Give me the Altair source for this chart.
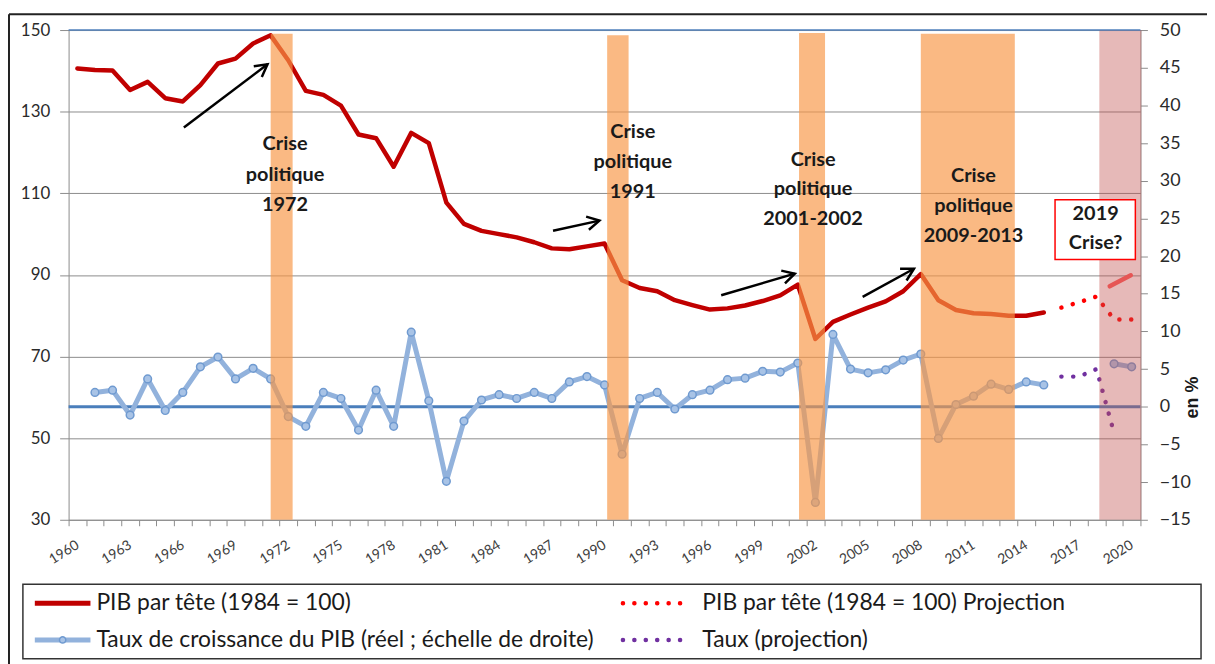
import altair as alt
import pandas as pd

# ---------------- data ----------------
years = list(range(1960, 2016))
pib = [140.6, 140.2, 140.1, 135.3, 137.3, 133.3, 132.5, 136.5, 141.8, 143.0,
       146.7, 148.7, 142.6, 135.1, 134.1, 131.5, 124.4, 123.5, 116.5, 124.8,
       122.3, 107.7, 102.5, 100.8, 100.0, 99.2, 98.0, 96.5, 96.3, 97.0,
       97.7, 88.7, 86.8, 86.0, 83.8, 82.6, 81.5, 81.8, 82.5, 83.6,
       85.0, 87.6, 74.3, 78.5, 80.3, 82.0, 83.5, 86.0, 90.2, 83.8,
       81.4, 80.6, 80.4, 80.0, 80.0, 80.8]

growth_years = list(range(1961, 2016))
growth = [1.9, 2.2, -1.1, 3.7, -0.5, 1.9, 5.3, 6.6, 3.7,
          5.1, 3.7, -1.3, -2.6, 1.9, 1.1, -3.1, 2.2, -2.6, 9.9,
          0.8, -9.9, -1.9, 0.9, 1.6, 1.1, 1.9, 1.1, 3.3, 4.0,
          2.9, -6.3, 1.1, 1.9, -0.3, 1.6, 2.2, 3.6, 3.8, 4.7,
          4.6, 5.8, -12.7, 9.6, 5.0, 4.5, 4.9, 6.2, 7.0, -4.2,
          0.3, 1.4, 3.0, 2.3, 3.3, 2.9]

pib_proj_years = [2016, 2017, 2018, 2019, 2020]
pib_proj = [82.0, 83.3, 84.7, 79.1, 79.1]

rate_proj_years = [2016, 2017, 2018, 2019]
rate_proj = [4.0, 4.0, 5.0, -3.5]

growth_tail_years = [2019, 2020]
growth_tail = [5.7, 5.3]

crisis2019_years = [2018.75, 2019.95]
crisis2019_vals = [87.2, 89.9]

band_start = [1971.0, 1990.15, 2001.07, 2008.0]
band_end = [1972.25, 1991.37, 2002.55, 2013.35]
band_top = [149.1, 148.7, 149.3, 149.1]
pink_start = [2018.16]
pink_end = [2020.55]
pink_top = [150]

arrow_x0 = [1966.06, 1987.07, 1996.64, 2004.69]
arrow_y0 = [126.1, 100.8, 85.0, 84.6]
arrow_x1 = [1970.82, 1989.71, 2000.83, 2007.61]
arrow_y1 = [141.6, 103.3, 90.3, 91.5]
arrow_angle = [323, 348, 344, 331]

annot_text = ["Crise", "politique", "1972",
              "Crise", "politique", "1991",
              "Crise", "politique", "2001-2002",
              "Crise", "politique", "2009-2013",
              "2019", "Crise?"]
annot_year = [1971.82, 1971.82, 1971.82,
              1991.61, 1991.61, 1991.61,
              2001.87, 2001.87, 2001.87,
              2011.0, 2011.0, 2011.0,
              2017.95, 2017.95]
annot_val = [122.0, 114.5, 107.2,
             124.9, 117.6, 110.3,
             118.1, 111.0, 103.8,
             114.2, 106.9, 99.6,
             105.0, 97.7]
box_x = [2015.64]
box_x2 = [2020.21]
box_y = [108.4]
box_y2 = [93.8]

label_years = list(range(1960, 2021, 3))
left_ticks = [30, 50, 70, 90, 110, 130, 150]
right_ticks = list(range(-15, 55, 5))

legend_labels = ["PIB par tête (1984 = 100)",
                 "Taux de croissance du PIB (réel ; échelle de droite)",
                 "PIB par tête (1984 = 100) Projection",
                 "Taux (projection)"]

# ---------------- styles ----------------
GRAY = '#8c8c8c'
FONT = 'Lato'
TXT = '#1a1a1a'
RED = '#C00000'
BLUE = '#92B2DC'
BLUE_STROKE = '#6F9AD0'
BLUE_FILL = '#A8C3E6'
PURPLE = '#7030A0'
W, H = 1079, 493

xscale = alt.Scale(domain=[1959.5, 2020.5], nice=False, zero=False)
yl_scale = alt.Scale(domain=[30, 150], nice=False, zero=False)
yr_scale = alt.Scale(domain=[-15, 50], nice=False, zero=False)

x_ticks_axis = alt.Axis(orient='bottom', values=[1959.5 + i for i in range(62)], labels=False,
                        tickSize=6, tickColor=GRAY, domainColor=GRAY,
                        grid=False, title=None)
x_label_axis = alt.Axis(orient='bottom', values=label_years, format='d', labelAngle=-32,
                        labelAlign='right', labelBaseline='middle',
                        ticks=False, tickSize=0, domain=False, grid=False,
                        labelPadding=24, labelFont=FONT, labelFontSize=14,
                        labelColor='#404040', labelOverlap=False, title=None)
yl_axis = alt.Axis(orient='left', values=left_ticks, grid=True, gridColor=GRAY, tickSize=9,
                   tickColor=GRAY, domainColor=GRAY, labelPadding=10,
                   labelFont=FONT, labelFontSize=17, labelColor='#2a2a2a',
                   title=None)
yr_axis = alt.Axis(orient='right', values=right_ticks, grid=False, tickSize=7,
                   tickColor=GRAY, domainColor=GRAY, labelPadding=12,
                   labelFont=FONT, labelFontSize=18, labelColor='#2a2a2a',
                   title=None)

one = pd.DataFrame({'z': [0]})

# ---------------- layer A : left scale series ----------------
pib_df = pd.DataFrame({'year': years, 'v': pib})
pib_proj_df = pd.DataFrame({'year': pib_proj_years, 'v': pib_proj})
c19_df = pd.DataFrame({'year': crisis2019_years, 'v': crisis2019_vals})

def xa(field='year'):
    return alt.X(f'{field}:Q', scale=xscale, axis=x_ticks_axis)

def ya(field='v'):
    return alt.Y(f'{field}:Q', scale=yl_scale, axis=yl_axis)

red_line = alt.Chart(pib_df).mark_line(color=RED, strokeWidth=4.5, strokeJoin='round', strokeCap='round').encode(x=xa(), y=ya())
red_proj = alt.Chart(pib_proj_df).mark_line(color='#FF0000', strokeWidth=4.5, strokeDash=[0.1, 11.8], strokeCap='round').encode(x=xa(), y=ya())
c19_line = alt.Chart(c19_df).mark_line(color='#FF5A5A', strokeWidth=4.5, strokeCap='round').encode(x=xa(), y=ya())

A = alt.layer(red_line, red_proj, c19_line)

# ---------------- layer B : right scale series ----------------
g_df = pd.DataFrame({'year': growth_years, 'g': growth})
gt_df = pd.DataFrame({'year': growth_tail_years, 'g': growth_tail})
rp_df = pd.DataFrame({'year': rate_proj_years, 'g': rate_proj})

def xb(field='year'):
    return alt.X(f'{field}:Q', scale=xscale, axis=x_label_axis)

def yb(field='g'):
    return alt.Y(f'{field}:Q', scale=yr_scale, axis=yr_axis)

zero_rule = alt.Chart(one).mark_rule(color='#4A7EBB', strokeWidth=3).encode(y=yb('z'))
blue_line = alt.Chart(g_df).mark_line(color=BLUE, strokeWidth=5, strokeJoin='round').encode(x=xb(), y=yb())
blue_pts = alt.Chart(g_df).mark_point(filled=True, fill=BLUE_FILL, stroke=BLUE_STROKE, strokeWidth=1.5, size=60, opacity=1).encode(x=xb(), y=yb())
tail_line = alt.Chart(gt_df).mark_line(color=BLUE, strokeWidth=5).encode(x=xb(), y=yb())
tail_pts = alt.Chart(gt_df).mark_point(filled=True, fill=BLUE_FILL, stroke=BLUE_STROKE, strokeWidth=1.5, size=60, opacity=1).encode(x=xb(), y=yb())
purple_proj = alt.Chart(rp_df).mark_line(color=PURPLE, strokeWidth=4.5, strokeDash=[0.1, 11.8], strokeCap='round').encode(x=xb(), y=yb())

B = alt.layer(zero_rule, blue_line, blue_pts, tail_line, tail_pts, purple_proj)

# ---------------- layer C : bands & annotations ----------------
def xc(field):
    return alt.X(f'{field}:Q', scale=xscale, axis=None)

def yc(field):
    return alt.Y(f'{field}:Q', scale=yl_scale, axis=None)

bands_df = pd.DataFrame({'s': band_start, 'e': band_end, 't': band_top, 'b': [30] * len(band_start)})
pink_df = pd.DataFrame({'s': pink_start, 'e': pink_end, 't': pink_top, 'b': [30]})
bands = alt.Chart(bands_df).mark_rect(color='#F79646', opacity=0.67).encode(x=xc('s'), x2='e', y=yc('t'), y2='b')
pink = alt.Chart(pink_df).mark_rect(color='#C0504D', opacity=0.4).encode(x=xc('s'), x2='e', y=yc('t'), y2='b')

top_df = pd.DataFrame({'t': [150]})
top_rule = alt.Chart(top_df).mark_rule(color='#4F81BD', strokeWidth=1.5).encode(y=yc('t'))

arr_df = pd.DataFrame({'x0': arrow_x0, 'y0': arrow_y0, 'x1': arrow_x1, 'y1': arrow_y1, 'a': arrow_angle})
shafts = alt.Chart(arr_df).mark_rule(color='black', strokeWidth=2.5).encode(x=xc('x0'), y=yc('y0'), x2='x1', y2='y1')
heads = alt.Chart(arr_df).mark_point(shape='M -1 -0.55 L 0 0 L -1 0.55', filled=False, stroke='black', strokeWidth=2.5, size=600, opacity=1).encode(
    x=xc('x1'), y=yc('y1'), angle=alt.Angle('a:Q', scale=None))

box_df = pd.DataFrame({'x': box_x, 'x2': box_x2, 'y': box_y, 'y2': box_y2})
box = alt.Chart(box_df).mark_rect(fill='white', stroke='#FF0000', strokeWidth=1.5).encode(x=xc('x'), x2='x2', y=yc('y'), y2='y2')

ann_df = pd.DataFrame({'t': annot_text, 'x': annot_year, 'y': annot_val})
ann = alt.Chart(ann_df).mark_text(font=FONT, fontSize=20, fontWeight='bold', color=TXT, align='center', baseline='middle').encode(
    x=xc('x'), y=yc('y'), text='t:N')

en_pct = alt.Chart(one).mark_text(text='en %', font='Liberation Sans', fontSize=18, fontWeight='bold', color=TXT, angle=270,
                                  align='center', baseline='middle').encode(x=alt.value(1132), y=alt.value(370))

# frame and legend (decoration, pixel positions)
frame_v = alt.Chart(one).mark_rule(color='#222222', strokeWidth=2).encode(x=alt.value(-60), y=alt.value(-16), y2=alt.value(640))
frame_h = alt.Chart(one).mark_rule(color='#222222', strokeWidth=2).encode(x=alt.value(-60), x2=alt.value(1150), y=alt.value(-16))
leg_box = alt.Chart(one).mark_rect(fill='white', stroke='#333333', strokeWidth=1.5).encode(
    x=alt.value(-46), x2=alt.value(1140), y=alt.value(558), y2=alt.value(633))
ROW1, ROW2 = 577, 614
leg_red = alt.Chart(one).mark_rule(color=RED, strokeWidth=5).encode(x=alt.value(-34), x2=alt.value(22), y=alt.value(ROW1))
leg_blue = alt.Chart(one).mark_rule(color=BLUE, strokeWidth=5).encode(x=alt.value(-34), x2=alt.value(22), y=alt.value(ROW2))
leg_blue_pt = alt.Chart(one).mark_point(filled=True, fill=BLUE_FILL, stroke=BLUE_STROKE, strokeWidth=1.5, size=40, opacity=1).encode(x=alt.value(-6), y=alt.value(ROW2))
leg_rdot = alt.Chart(one).mark_rule(color='#FF0000', strokeWidth=4.5, strokeDash=[0.1, 11.4], strokeCap='round').encode(x=alt.value(558), x2=alt.value(616), y=alt.value(ROW1))
leg_pdot = alt.Chart(one).mark_rule(color=PURPLE, strokeWidth=4.5, strokeDash=[0.1, 11.4], strokeCap='round').encode(x=alt.value(558), x2=alt.value(616), y=alt.value(ROW2))

def leg_text(label, x, y):
    return alt.Chart(one).mark_text(text=label, font=FONT, fontSize=23, color=TXT, align='left', baseline='middle').encode(
        x=alt.value(x), y=alt.value(y))

legend = [leg_box, leg_red, leg_blue, leg_blue_pt, leg_rdot, leg_pdot,
          leg_text(legend_labels[0], 28, ROW1), leg_text(legend_labels[1], 28, ROW2),
          leg_text(legend_labels[2], 638, ROW1), leg_text(legend_labels[3], 638, ROW2)]

C = alt.layer(bands, pink, top_rule, shafts, heads, box, ann, en_pct, frame_v, frame_h, *legend)

chart = alt.layer(A, B, C).resolve_scale(y='independent').resolve_axis(x='independent', y='independent').properties(
    width=W, height=H,
    autosize=alt.AutoSizeParams(type='none'),
    padding={'left': 61, 'top': 20, 'right': 67, 'bottom': 143},
    background='white',
).configure_view(stroke=None)

chart.save("out.html", embed_options={"renderer": "svg", "actions": False})
